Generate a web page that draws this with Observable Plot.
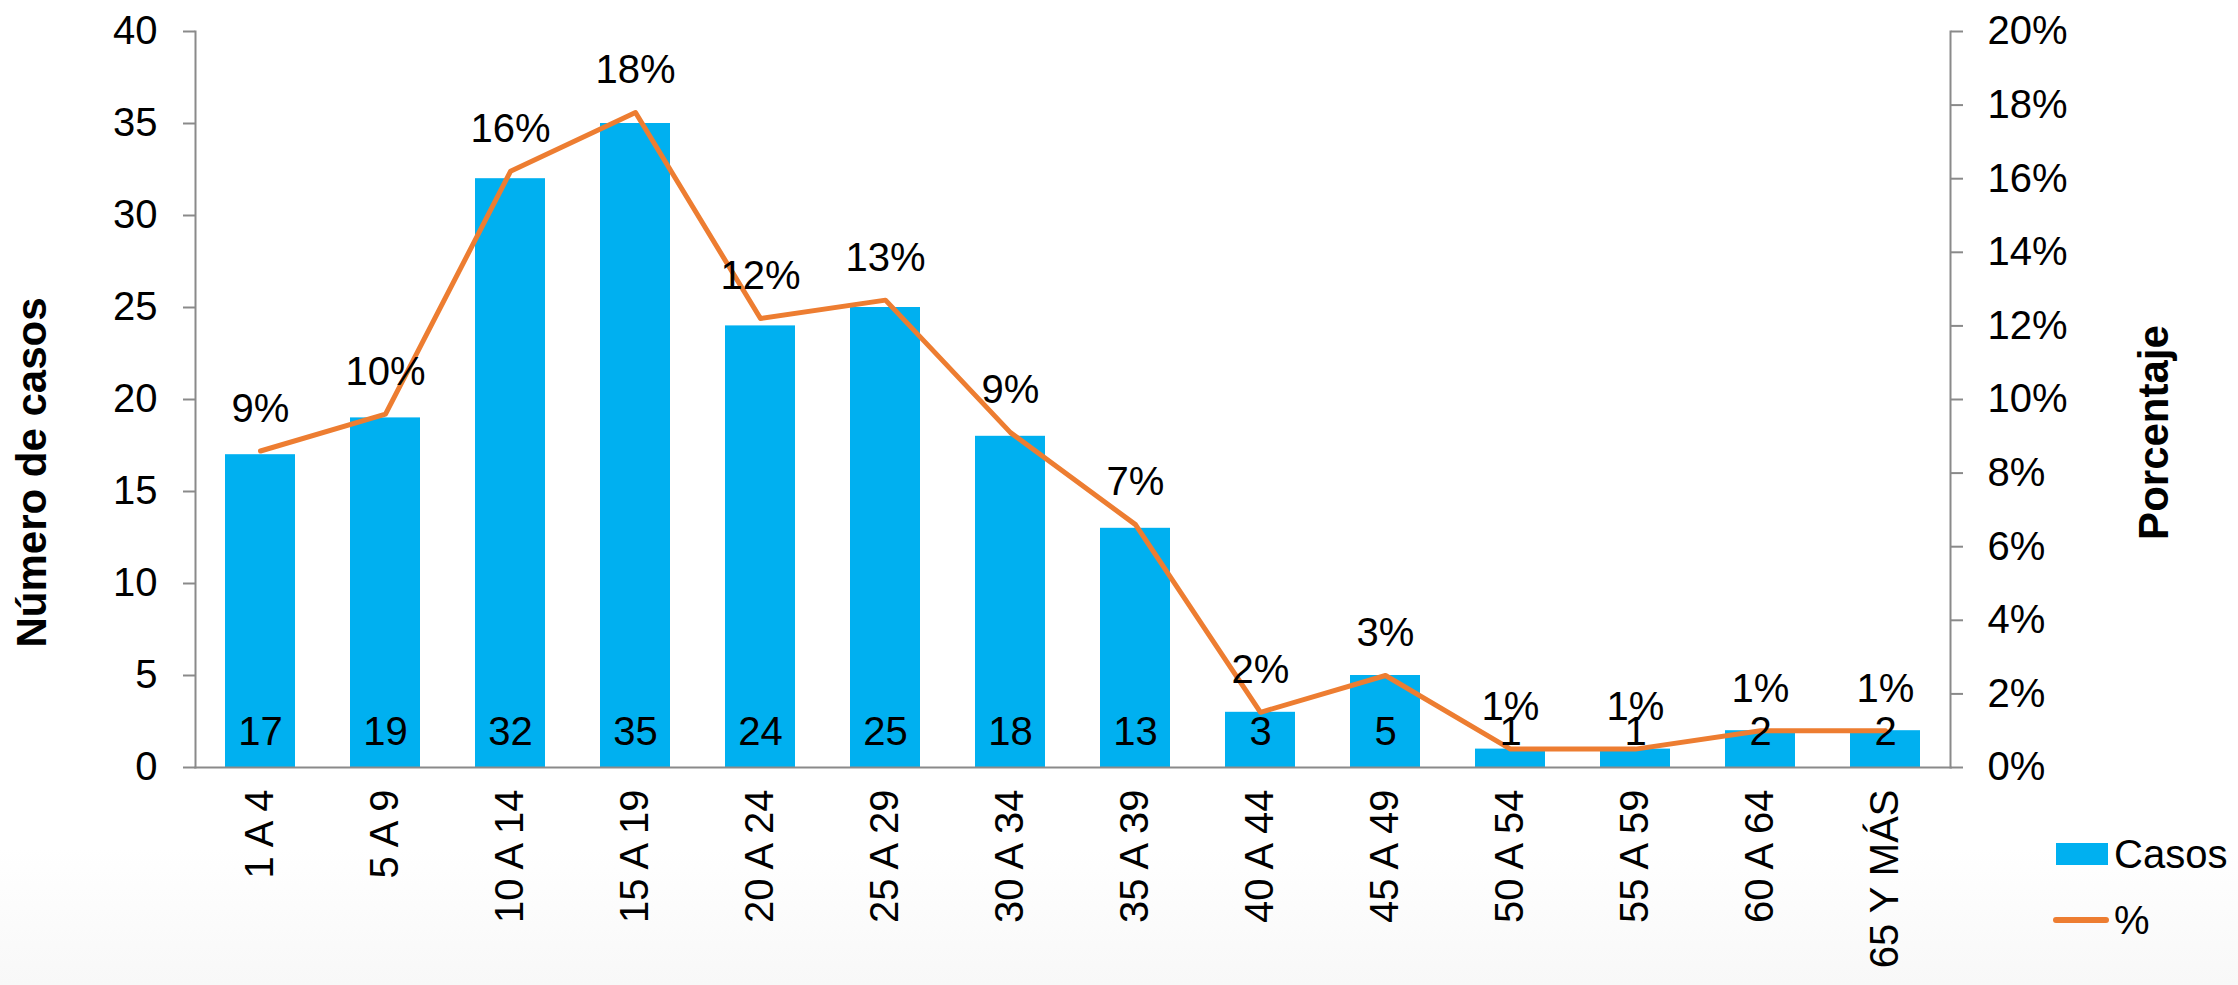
<!DOCTYPE html>
<html>
<head>
<meta charset="utf-8">
<script src="https://cdn.jsdelivr.net/npm/d3@7"></script>
<script src="https://cdn.jsdelivr.net/npm/@observablehq/plot@0.6"></script>
<style>
  html, body { margin: 0; padding: 0; }
  body { width: 2238px; height: 985px; overflow: hidden;
         background: linear-gradient(to bottom, #ffffff 0%, #ffffff 86%, #f8f8f8 100%);
         font-family: "Liberation Sans", Arial, sans-serif; }
  #wrap { position: relative; width: 2238px; height: 985px; }
  #legend { position: absolute; left: 2053px; top: 836px; font-size: 40px; color: #000; line-height: 1; }
  .row { display: flex; align-items: center; height: 36px; margin-bottom: 30px; }
  .sw { width: 52px; height: 22px; background: #00B0F0; margin: 0 6px 0 3px; }
  .ln { width: 56px; height: 6px; border-radius: 3px; background: #ED7D31; margin-right: 5px; }
</style>
</head>
<body>
<div id="wrap">
  <div id="chart"></div>
  <div id="legend">
    <div class="row"><div class="sw"></div><span>Casos</span></div>
    <div class="row"><div class="ln"></div><span>%</span></div>
  </div>
</div>
<script>
const categories = ["1 A 4","5 A 9","10 A 14","15 A 19","20 A 24","25 A 29","30 A 34","35 A 39","40 A 44","45 A 49","50 A 54","55 A 59","60 A 64","65 Y MÁS"];
const casos = [17,19,32,35,24,25,18,13,3,5,1,1,2,2];
const pct = [8.6,9.6,16.2,17.8,12.2,12.7,9.1,6.6,1.5,2.5,0.5,0.5,1.0,1.0];
const pctLabels = ["9%","10%","16%","18%","12%","13%","9%","7%","2%","3%","1%","1%","1%","1%"];
const leftTicks = [0,5,10,15,20,25,30,35,40];
const rightTicks = [0,2,4,6,8,10,12,14,16,18,20];

const data = categories.map((c, i) => ({cat: c, casos: casos[i], pct: pct[i], label: pctLabels[i]}));
const K = 2; // 20% on the right axis corresponds to 40 on the left axis
const axisColor = "#8a8a8a";
const font = "40px";

const chart = Plot.plot({
  width: 2238,
  height: 985,
  marginLeft: 195,
  marginRight: 288,
  marginTop: 31,
  marginBottom: 218,
  style: {background: "transparent", fontFamily: "'Liberation Sans', Arial, sans-serif", fontSize: font, color: "#000"},
  x: {domain: categories, paddingInner: 0.444, paddingOuter: 0.222, align: 0.5},
  y: {domain: [0, 40]},
  marks: [
    Plot.barY(data, {x: "cat", y: "casos", fill: "#00B0F0"}),
    Plot.line(data, {x: "cat", y: d => d.pct * K, stroke: "#ED7D31", strokeWidth: 5, strokeLinecap: "round", strokeLinejoin: "round"}),
    Plot.text(data, {x: "cat", y: 0, dy: -35, text: d => String(d.casos), fontSize: 40, fill: "#000", lineAnchor: "middle"}),
    Plot.text(data, {x: "cat", y: d => d.pct * K, dy: -42, text: "label", fontSize: 40, fill: "#000", lineAnchor: "middle"}),
    Plot.frame({anchor: "left", stroke: axisColor, strokeWidth: 2}),
    Plot.frame({anchor: "right", stroke: axisColor, strokeWidth: 2}),
    Plot.frame({anchor: "bottom", stroke: axisColor, strokeWidth: 2}),
    Plot.axisY(leftTicks, {anchor: "left", tickSize: 12, tickPadding: 26, stroke: axisColor, strokeWidth: 2, fill: "#000", fontSize: 40, label: null}),
    Plot.axisY(rightTicks.map(v => v * K), {anchor: "right", tickSize: 12, tickPadding: 25, tickFormat: d => (d / K) + "%", stroke: axisColor, strokeWidth: 2, fill: "#000", fontSize: 40, label: null}),
    Plot.axisX({anchor: "bottom", tickSize: 0, tickPadding: 22, tickRotate: -90, fill: "#000", fontSize: 40, label: null}),
    Plot.text(["Número de casos"], {frameAnchor: "left", dx: -163, dy: 73, rotate: -90, text: d => d, fontSize: 42, fontWeight: "bold", fill: "#000", lineAnchor: "middle", textAnchor: "middle"}),
    Plot.text(["Porcentaje"], {frameAnchor: "right", dx: 204, dy: 33, rotate: -90, text: d => d, fontSize: 42, fontWeight: "bold", fill: "#000", lineAnchor: "middle", textAnchor: "middle"})
  ]
});
document.getElementById("chart").appendChild(chart);
</script>
</body>
</html>
